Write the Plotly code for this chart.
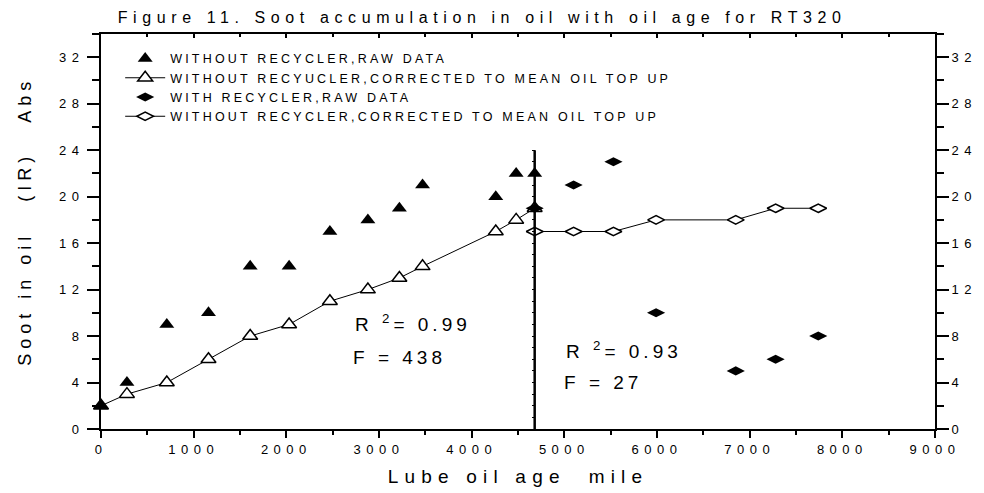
import plotly.graph_objects as go

# ---- data ----
x_without = [0, 280, 710, 1160, 1610, 2030, 2470, 2880, 3220, 3470, 4260, 4480, 4680]
y_without_raw = [2, 4, 9, 10, 14, 14, 17, 18, 19, 21, 20, 22, 22]
y_without_corr = [2, 3, 4, 6, 8, 9, 11, 12, 13, 14, 17, 18, 19]
x_with = [4680, 5100, 5530, 5990, 6850, 7280, 7740]
y_with_raw = [19, 21, 23, 10, 5, 6, 8]
y_with_corr = [17, 17, 17, 18, 18, 19, 19]
split_x = [4680, 4680]
split_y = [0, 24]

names = [
    "WITHOUT RECYCLER,RAW DATA",
    "WITHOUT RECYUCLER,CORRECTED TO MEAN OIL TOP UP",
    "WITH RECYCLER,RAW DATA",
    "WITHOUT RECYCLER,CORRECTED TO MEAN OIL TOP UP",
]
x_ticks = [0, 1000, 2000, 3000, 4000, 5000, 6000, 7000, 8000, 9000]
y_ticks = [0, 4, 8, 12, 16, 20, 24, 28, 32]
split_ticks = list(range(0, 25))

FONT = "Liberation Sans, Arial, sans-serif"
BLACK = "#000000"

fig = go.Figure()
fig.add_trace(go.Scatter(
    x=split_x, y=split_y, mode="lines", xaxis="x2", yaxis="y3", showlegend=False,
    line=dict(color=BLACK, width=2.5), hoverinfo="skip"))
fig.add_trace(go.Scatter(
    x=x_without, y=y_without_corr, mode="lines+markers", name=names[1],
    line=dict(color=BLACK, width=1), cliponaxis=False,
    marker=dict(symbol="triangle-up", size=13, color="white",
                line=dict(color=BLACK, width=1.5))))
fig.add_trace(go.Scatter(
    x=x_with, y=y_with_corr, mode="lines+markers", name=names[3], yaxis="y2",
    line=dict(color=BLACK, width=1), cliponaxis=False,
    marker=dict(symbol="diamond-wide", size=12, color="white",
                line=dict(color=BLACK, width=1.5))))
fig.add_trace(go.Scatter(
    x=x_without, y=y_without_raw, mode="markers", name=names[0], cliponaxis=False,
    marker=dict(symbol="triangle-up", size=13, color=BLACK,
                line=dict(color=BLACK, width=0))))
fig.add_trace(go.Scatter(
    x=x_with, y=y_with_raw, mode="markers", name=names[2], cliponaxis=False,
    marker=dict(symbol="diamond-wide", size=13, color=BLACK,
                line=dict(color=BLACK, width=0))))

axis_common = dict(
    showgrid=False, zeroline=False, showline=True, linecolor=BLACK,
    linewidth=2, tickcolor=BLACK, ticks="outside", automargin=False,
    tickfont=dict(family=FONT, size=13, color=BLACK))

fig.update_layout(
    width=984, height=493,
    margin=dict(l=101, r=49, t=34, b=64),
    paper_bgcolor="white", plot_bgcolor="white",
    font=dict(family=FONT, color=BLACK),
    title=dict(text="Figure 11. Soot accumulation in oil with oil age for RT320",
               x=0.457, xanchor="center", xref="paper", y=0.965, yanchor="middle",
               yref="container", font=dict(family=FONT, size=16, color=BLACK)),
    xaxis=dict(axis_common, range=[0, 9000], tickvals=x_ticks,
               ticklen=7, tickwidth=2, mirror=True,
               minor=dict(dtick=500, ticklen=4, tickwidth=2, tickcolor=BLACK, ticks="outside"),
               title=dict(text="Lube oil age  mile", standoff=14,
                          font=dict(family=FONT, size=19, color=BLACK))),
    xaxis2=dict(range=[0, 9000], overlaying="x", side="top", anchor="y",
                tickvals=x_ticks, showgrid=False, zeroline=False, showline=False,
                showticklabels=False, ticks="inside", ticklen=4, tickwidth=2,
                tickcolor=BLACK, automargin=False,
                minor=dict(dtick=500, ticklen=3, tickwidth=2, tickcolor=BLACK, ticks="inside")),
    yaxis=dict(axis_common, range=[0, 34], tickvals=y_ticks,
               ticklen=12, tickwidth=2,
               minor=dict(dtick=2, ticklen=7, tickwidth=2, tickcolor=BLACK, ticks="outside")),
    yaxis2=dict(axis_common, range=[0, 34], tickvals=y_ticks, overlaying="y",
                side="right", ticklen=12, tickwidth=2,
                minor=dict(dtick=2, ticklen=7, tickwidth=2, tickcolor=BLACK, ticks="outside")),
    yaxis3=dict(range=[0, 34], overlaying="y", anchor="free",
                position=4680 / 9000, tickvals=split_ticks,
                showgrid=False, zeroline=False, showline=False,
                showticklabels=False, ticks="outside", ticklen=3, tickwidth=1,
                tickcolor=BLACK, automargin=False),
    legend=dict(x=0.023, y=0.975, xanchor="left", yanchor="top",
                bgcolor="rgba(0,0,0,0)", traceorder="normal",
                font=dict(family=FONT, size=12.5, color=BLACK),
                itemwidth=40, tracegroupgap=0),
    showlegend=True,
)

# legend order as in reference
fig.data[3].legendrank = 1
fig.data[1].legendrank = 2
fig.data[4].legendrank = 3
fig.data[2].legendrank = 4

ann_font = dict(family=FONT, size=19, color=BLACK)
fig.add_annotation(x=3367, y=9.16, text="R <sup>2</sup>= 0.99", showarrow=False,
                   xanchor="center", yanchor="middle", font=ann_font)
fig.add_annotation(x=3226, y=6.15, text="F = 438", showarrow=False,
                   xanchor="center", yanchor="middle", font=ann_font)
fig.add_annotation(x=5644, y=6.84, text="R <sup>2</sup>= 0.93", showarrow=False,
                   xanchor="center", yanchor="middle", font=ann_font)
fig.add_annotation(x=5412, y=3.99, text="F = 27", showarrow=False,
                   xanchor="center", yanchor="middle", font=ann_font)
# y-axis title
fig.add_annotation(x=-0.091, y=0.525, xref="paper", yref="paper",
                   text="Soot in oil   (IR)   Abs", textangle=-90, showarrow=False,
                   xanchor="center", yanchor="middle",
                   font=dict(family=FONT, size=18, color=BLACK))

post = """
document.body.style.margin = '0';
var sp = function(sel, v){document.querySelectorAll(sel).forEach(function(t){t.setAttribute('letter-spacing', v);});};
sp('.gtitle', '5.6px');
sp('.xtick text', '5.5px');
sp('.ytick text', '5.5px');
sp('.y2tick text', '5.5px');
sp('.xtitle', '6.2px');
sp('.legendtext', '3.2px');
document.querySelectorAll('.annotation-text').forEach(function(t){
  t.setAttribute('letter-spacing', t.textContent.indexOf('Soot') === 0 ? '5px' : '4px');
});
document.querySelectorAll('.legend [clip-path], .legend').forEach(function(e){e.removeAttribute('clip-path');});
"""

fig.write_html("out.html", post_script=post, config={"displayModeBar": False})
